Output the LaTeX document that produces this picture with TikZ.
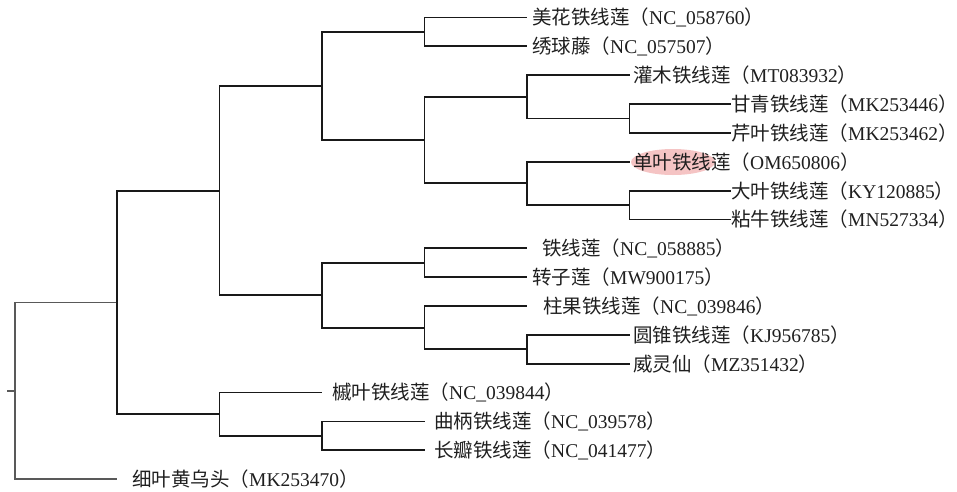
\documentclass[tikz,border=0pt]{standalone}
\usepackage{fontspec}
\setmainfont{Liberation Serif}
\newfontfamily\cjk{Noto Sans CJK SC}
\newfontfamily\latn{Liberation Serif}
\definecolor{hl}{RGB}{245,196,196}
\definecolor{ln}{RGB}{25,25,25}
\newcommand\taxlabel[2]{{\cjk #1（}{\latn #2}\makebox[0.45em][l]{\cjk ）}}
\begin{document}
\begin{tikzpicture}[x=1pt,y=-1pt,
  branch/.style={draw=ln,line width=1.8pt},
  rootbranch/.style={draw=black!65,line width=1.5pt},
  taxon/.style={anchor=west,inner sep=0pt,font=\fontsize{19.5}{23}\selectfont,text=black!88}]
\useasboundingbox (0,0) rectangle (957,491);
% internal nodes
\coordinate (A) at (424.5,31.93);
\coordinate (B) at (629.5,118.48);
\coordinate (C) at (527,96.84);
\coordinate (D) at (629.5,205.03);
\coordinate (E) at (527,183.39);
\coordinate (F) at (424.5,140.11);
\coordinate (G) at (322,86.02);
\coordinate (H) at (424.5,262.73);
\coordinate (I) at (527,349.28);
\coordinate (J) at (424.5,327.64);
\coordinate (K) at (322,295.18);
\coordinate (M) at (219.5,190.6);
\coordinate (N) at (322,435.83);
\coordinate (O) at (219.5,414.19);
\coordinate (P) at (117,302.4);
\coordinate (R) at (15,390.75);
\coordinate (S) at (7,390.75);
% leaf ends
\coordinate (t0) at (527,17.5);
\coordinate (t1) at (527,46.35);
\coordinate (t2) at (629.5,75.2);
\coordinate (t3) at (731,104.05);
\coordinate (t4) at (731,132.9);
\coordinate (t5) at (629.5,161.75);
\coordinate (t6) at (731,190.6);
\coordinate (t7) at (731,219.45);
\coordinate (t8) at (527,248.3);
\coordinate (t9) at (527,277.15);
\coordinate (t10) at (527,306);
\coordinate (t11) at (629.5,334.85);
\coordinate (t12) at (629.5,363.7);
\coordinate (t13) at (322,392.55);
\coordinate (t14) at (424.5,421.4);
\coordinate (t15) at (424.5,450.25);
\coordinate (t16) at (117,479.1);
% highlight
\fill[hl] (673,162) ellipse [x radius=42,y radius=13];
% labels
\node[taxon] (l0) at (532,17.5) {\taxlabel{美花铁线莲}{NC\_058760}};
\node[taxon] (l1) at (532,46.35) {\taxlabel{绣球藤}{NC\_057507}};
\node[taxon] (l2) at (633,75.2) {\taxlabel{灌木铁线莲}{MT083932}};
\node[taxon] (l3) at (731,104.05) {\taxlabel{甘青铁线莲}{MK253446}};
\node[taxon] (l4) at (731,132.9) {\taxlabel{芹叶铁线莲}{MK253462}};
\node[taxon] (l5) at (633,161.75) {\taxlabel{单叶铁线莲}{OM650806}};
\node[taxon] (l6) at (731,190.6) {\taxlabel{大叶铁线莲}{KY120885}};
\node[taxon] (l7) at (731,219.45) {\taxlabel{粘牛铁线莲}{MN527334}};
\node[taxon] (l8) at (542,248.3) {\taxlabel{铁线莲}{NC\_058885}};
\node[taxon] (l9) at (532,277.15) {\taxlabel{转子莲}{MW900175}};
\node[taxon] (l10) at (543,306) {\taxlabel{柱果铁线莲}{NC\_039846}};
\node[taxon] (l11) at (633,334.85) {\taxlabel{圆锥铁线莲}{KJ956785}};
\node[taxon] (l12) at (633,363.7) {\taxlabel{威灵仙}{MZ351432}};
\node[taxon] (l13) at (332,392.55) {\taxlabel{槭叶铁线莲}{NC\_039844}};
\node[taxon] (l14) at (434,421.4) {\taxlabel{曲柄铁线莲}{NC\_039578}};
\node[taxon] (l15) at (434,450.25) {\taxlabel{长瓣铁线莲}{NC\_041477}};
\node[taxon] (l16) at (132,479.1) {\taxlabel{细叶黄乌头}{MK253470}};
% branches
\draw[rootbranch] (S) -- (R);
\draw[rootbranch] (R) |- (P);
\draw[rootbranch] (R) |- (t16);
\draw[branch] (P) |- (M);
\draw[branch] (P) |- (O);
\draw[branch] (M) |- (G);
\draw[branch] (M) |- (K);
\draw[branch] (G) |- (A);
\draw[branch] (G) |- (F);
\draw[branch] (A) |- (t0);
\draw[branch] (A) |- (t1);
\draw[branch] (F) |- (C);
\draw[branch] (F) |- (E);
\draw[branch] (C) |- (t2);
\draw[branch] (C) |- (B);
\draw[branch] (B) |- (t3);
\draw[branch] (B) |- (t4);
\draw[branch] (E) |- (t5);
\draw[branch] (E) |- (D);
\draw[branch] (D) |- (t6);
\draw[branch] (D) |- (t7);
\draw[branch] (K) |- (H);
\draw[branch] (K) |- (J);
\draw[branch] (H) |- (t8);
\draw[branch] (H) |- (t9);
\draw[branch] (J) |- (t10);
\draw[branch] (J) |- (I);
\draw[branch] (I) |- (t11);
\draw[branch] (I) |- (t12);
\draw[branch] (O) |- (t13);
\draw[branch] (O) |- (N);
\draw[branch] (N) |- (t14);
\draw[branch] (N) |- (t15);
\end{tikzpicture}
\end{document}
